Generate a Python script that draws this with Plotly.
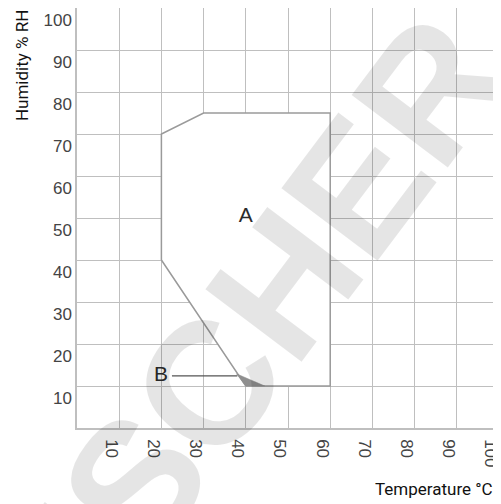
import plotly.graph_objects as go

# Operating range A (temperature °C, humidity % RH)
region_a_temp = [20, 20, 30, 60, 60, 40, 20]
region_a_hum = [40, 70, 75, 75, 10, 10, 40]

# Small extended range B
region_b_temp = [37.8, 40, 44.5, 37.8]
region_b_hum = [12.9, 10, 10, 12.9]

# Leader line for label B
b_leader_temp = [22.5, 38.0]
b_leader_hum = [12.4, 12.4]

x_ticks = [10, 20, 30, 40, 50, 60, 70, 80, 90, 100]
y_ticks = [10, 20, 30, 40, 50, 60, 70, 80, 90, 100]
x_tick_labels = [str(v) for v in x_ticks]
y_tick_labels = [str(v) for v in y_ticks]

label_a = ("A", 40, 50.3)
label_b = ("B", 19.9, 12.4)

GRID = "#bfbfbf"
OUTLINE = "#9a9a9a"
TXT = "#2b2b2b"

fig = go.Figure()
fig.add_trace(go.Scatter(
    x=region_a_temp, y=region_a_hum, mode="lines", fill="toself",
    fillcolor="white", line=dict(color=OUTLINE, width=1.5), hoverinfo="skip"))
fig.add_trace(go.Scatter(
    x=region_b_temp, y=region_b_hum, mode="lines", fill="toself",
    fillcolor="#8f8f8f", line=dict(color="#8f8f8f", width=0.5), hoverinfo="skip"))
fig.add_trace(go.Scatter(
    x=b_leader_temp, y=b_leader_hum, mode="lines",
    line=dict(color="#555555", width=1.2), hoverinfo="skip"))
fig.add_trace(go.Scatter(
    x=[label_a[1], label_b[1]], y=[label_a[2], label_b[2]], mode="text",
    text=[label_a[0], label_b[0]], textposition="middle center",
    textfont=dict(family="Liberation Sans", size=21, color=TXT), hoverinfo="skip"))

tickfont = dict(family="Liberation Sans", size=17, color="#444444")

fig.update_xaxes(
    range=[0, 100], tickvals=x_ticks, ticktext=x_tick_labels, tickangle=90,
    ticklabelshift=-8, ticklabelstandoff=6,
    ticklabeloverflow="allow", automargin=False,
    showgrid=True, gridcolor=GRID, gridwidth=1.2, zeroline=False,
    showline=True, linecolor=GRID, linewidth=1.5, mirror=True,
    ticks="", tickfont=tickfont, fixedrange=True)
fig.update_yaxes(
    range=[0, 100], tickvals=y_ticks, ticktext=y_tick_labels,
    ticklabelposition="outside bottom", ticklabelstandoff=0,
    ticklabeloverflow="allow", automargin=False,
    showgrid=True, gridcolor=GRID, gridwidth=1.2, zeroline=False,
    showline=True, linecolor=GRID, linewidth=1.5, mirror=True,
    ticks="", tickfont=tickfont, fixedrange=True)

title_font = dict(family="Roboto", size=17, color="#111111")
fig.add_annotation(text="Temperature °C", xref="paper", yref="paper",
                   x=0.9905, y=-0.145, xanchor="right", yanchor="middle",
                   showarrow=False, font=title_font)
fig.add_annotation(text="Humidity % RH", xref="paper", yref="paper",
                   x=-0.130, y=0.862, xanchor="center", yanchor="middle",
                   textangle=-90, showarrow=False, font=title_font)
# watermark
fig.add_annotation(text="<b>FISCHER</b>", xref="paper", yref="paper",
                   x=0.379, y=0.195, xanchor="center", yanchor="middle",
                   textangle=-53, showarrow=False,
                   font=dict(family="Liberation Sans", size=175,
                             color="rgba(0,0,0,0.1)"))

# page body adds an 8px offset, so the figure is sized to the visible area
fig.update_layout(
    width=493, height=496, margin=dict(l=69, r=2, t=0, b=76),
    paper_bgcolor="white", plot_bgcolor="white", showlegend=False)

fig.write_html("out.html")
